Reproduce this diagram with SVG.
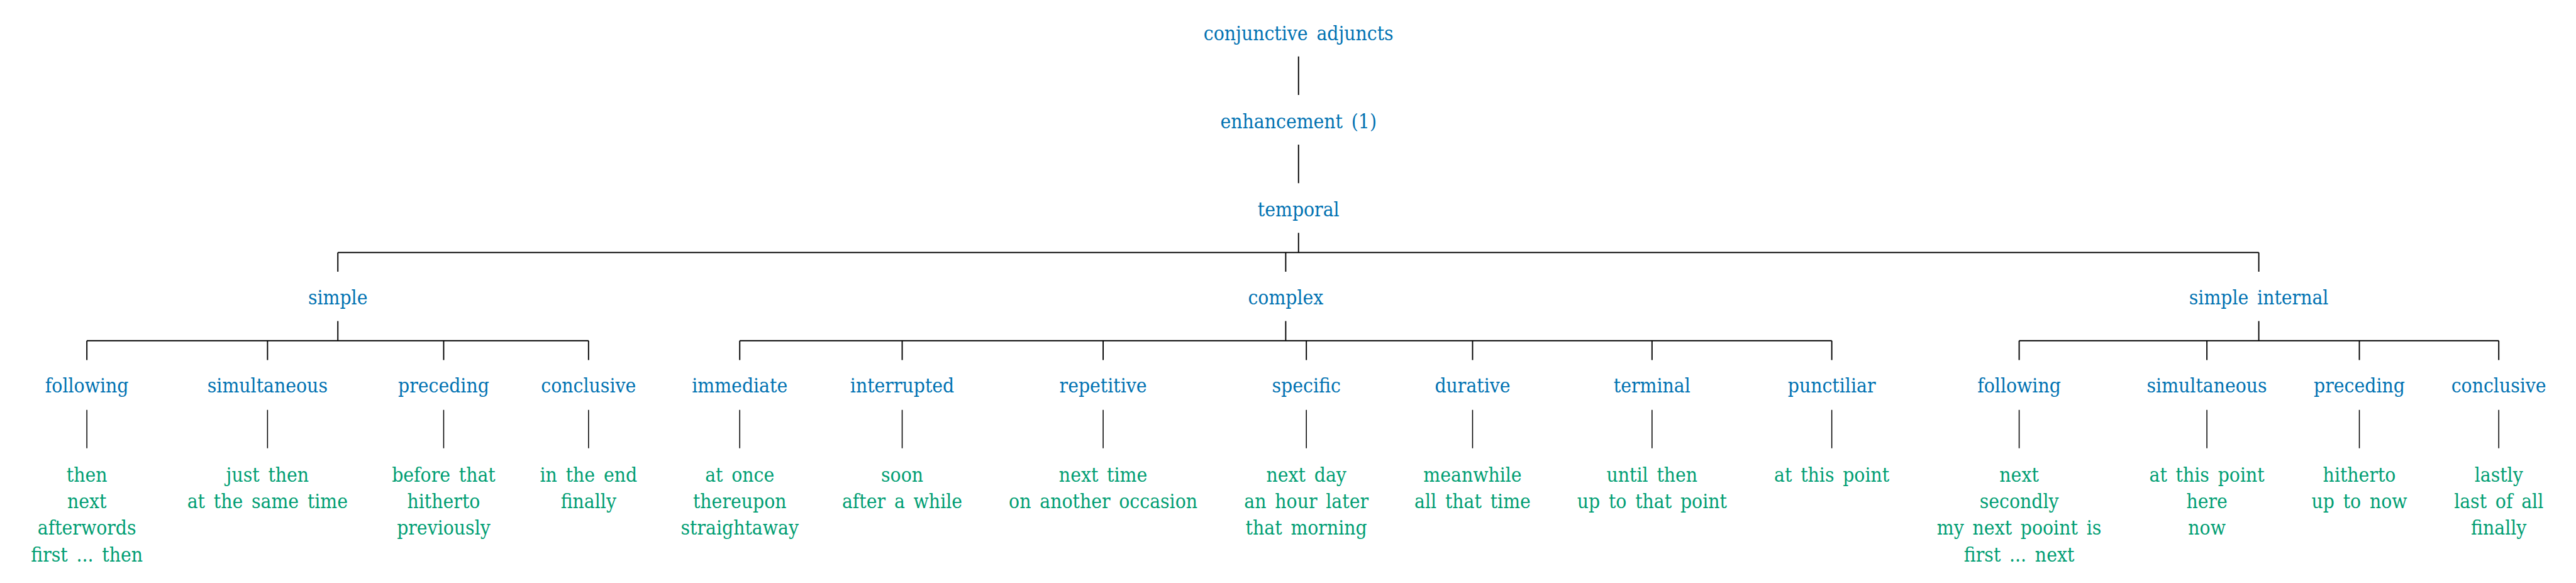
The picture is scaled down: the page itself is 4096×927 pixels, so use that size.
<svg xmlns="http://www.w3.org/2000/svg" width="4096" height="927" viewBox="0 0 4096 927">
<style>
text{font-family:"DejaVu Serif Condensed","DejaVu Serif","Liberation Serif",serif;font-stretch:condensed;font-size:33px;text-anchor:middle;word-spacing:5px}
.n{fill:#0072B2}
.l{fill:#009E73}
#connectors path{stroke:#000;stroke-width:2;fill:none}
#connectors path.t{stroke-width:1.6}
</style>
<rect width="4096" height="927" fill="#fff"/>
<g transform="scale(0.9559)">
<g id="connectors">
<path d="M2160,94V158M2160,240.7V304.7M2160,387.3V420"/>
<path d="M562,420H3757.3M562,420V452M2138.7,420V452M3757.3,420V452"/>
<path d="M562,534V566.7M144.5,566.7H979M144.5,566.7V599M445,566.7V599M738,566.7V599M979,566.7V599"/>
<path d="M2138.7,534V566.7M1230.5,566.7H3047M1230.5,566.7V599M1500.7,566.7V599M1835,566.7V599M2173,566.7V599M2449.5,566.7V599M2748,566.7V599M3047,566.7V599"/>
<path d="M3757.3,534V566.7M3358.7,566.7H4156.5M3358.7,566.7V599M3671,566.7V599M3924.6,566.7V599M4156.5,566.7V599"/>
<path class="t" d="M144.5,681.7V745.7M445,681.7V745.7M738,681.7V745.7M979,681.7V745.7M1230.5,681.7V745.7M1500.7,681.7V745.7M1835,681.7V745.7M2173,681.7V745.7M2449.5,681.7V745.7M2748,681.7V745.7M3047,681.7V745.7M3358.7,681.7V745.7M3671,681.7V745.7M3924.6,681.7V745.7M4156.5,681.7V745.7"/>
</g>
<g id="n-conjunctive-adjuncts"><text class="n" x="2160" y="66.7">conjunctive adjuncts</text></g>
<g id="n-enhancement"><text class="n" x="2160" y="213.3">enhancement (1)</text></g>
<g id="n-temporal"><text class="n" x="2160" y="360">temporal</text></g>
<g id="n-simple"><text class="n" x="562" y="506.7">simple</text></g>
<g id="n-complex"><text class="n" x="2138.7" y="506.7">complex</text></g>
<g id="n-simple-internal"><text class="n" x="3757.3" y="506.7">simple internal</text></g>
<g id="n-s-following"><text class="n" x="144.5" y="653.3">following</text></g>
<g id="n-s-simultaneous"><text class="n" x="445" y="653.3">simultaneous</text></g>
<g id="n-s-preceding"><text class="n" x="738" y="653.3">preceding</text></g>
<g id="n-s-conclusive"><text class="n" x="979" y="653.3">conclusive</text></g>
<g id="n-immediate"><text class="n" x="1230.5" y="653.3">immediate</text></g>
<g id="n-interrupted"><text class="n" x="1500.7" y="653.3">interrupted</text></g>
<g id="n-repetitive"><text class="n" x="1835" y="653.3">repetitive</text></g>
<g id="n-specific"><text class="n" x="2173" y="653.3">specific</text></g>
<g id="n-durative"><text class="n" x="2449.5" y="653.3">durative</text></g>
<g id="n-terminal"><text class="n" x="2748" y="653.3">terminal</text></g>
<g id="n-punctiliar"><text class="n" x="3047" y="653.3">punctiliar</text></g>
<g id="n-si-following"><text class="n" x="3358.7" y="653.3">following</text></g>
<g id="n-si-simultaneous"><text class="n" x="3671" y="653.3">simultaneous</text></g>
<g id="n-si-preceding"><text class="n" x="3924.6" y="653.3">preceding</text></g>
<g id="n-si-conclusive"><text class="n" x="4156.5" y="653.3">conclusive</text></g>
<g id="l-s-following"><text class="l" y="801"><tspan x="144.5">then</tspan><tspan x="144.5" dy="44.3">next</tspan><tspan x="144.5" dy="44.3">afterwords</tspan><tspan x="144.5" dy="44.3">first ... then</tspan></text></g>
<g id="l-s-simultaneous"><text class="l" y="801"><tspan x="445">just then</tspan><tspan x="445" dy="44.3">at the same time</tspan></text></g>
<g id="l-s-preceding"><text class="l" y="801"><tspan x="738">before that</tspan><tspan x="738" dy="44.3">hitherto</tspan><tspan x="738" dy="44.3">previously</tspan></text></g>
<g id="l-s-conclusive"><text class="l" y="801"><tspan x="979">in the end</tspan><tspan x="979" dy="44.3">finally</tspan></text></g>
<g id="l-immediate"><text class="l" y="801"><tspan x="1230.5">at once</tspan><tspan x="1230.5" dy="44.3">thereupon</tspan><tspan x="1230.5" dy="44.3">straightaway</tspan></text></g>
<g id="l-interrupted"><text class="l" y="801"><tspan x="1500.7">soon</tspan><tspan x="1500.7" dy="44.3">after a while</tspan></text></g>
<g id="l-repetitive"><text class="l" y="801"><tspan x="1835">next time</tspan><tspan x="1835" dy="44.3">on another occasion</tspan></text></g>
<g id="l-specific"><text class="l" y="801"><tspan x="2173">next day</tspan><tspan x="2173" dy="44.3">an hour later</tspan><tspan x="2173" dy="44.3">that morning</tspan></text></g>
<g id="l-durative"><text class="l" y="801"><tspan x="2449.5">meanwhile</tspan><tspan x="2449.5" dy="44.3">all that time</tspan></text></g>
<g id="l-terminal"><text class="l" y="801"><tspan x="2748">until then</tspan><tspan x="2748" dy="44.3">up to that point</tspan></text></g>
<g id="l-punctiliar"><text class="l" y="801"><tspan x="3047">at this point</tspan></text></g>
<g id="l-si-following"><text class="l" y="801"><tspan x="3358.7">next</tspan><tspan x="3358.7" dy="44.3">secondly</tspan><tspan x="3358.7" dy="44.3">my next pooint is</tspan><tspan x="3358.7" dy="44.3">first ... next</tspan></text></g>
<g id="l-si-simultaneous"><text class="l" y="801"><tspan x="3671">at this point</tspan><tspan x="3671" dy="44.3">here</tspan><tspan x="3671" dy="44.3">now</tspan></text></g>
<g id="l-si-preceding"><text class="l" y="801"><tspan x="3924.6">hitherto</tspan><tspan x="3924.6" dy="44.3">up to now</tspan></text></g>
<g id="l-si-conclusive"><text class="l" y="801"><tspan x="4156.5">lastly</tspan><tspan x="4156.5" dy="44.3">last of all</tspan><tspan x="4156.5" dy="44.3">finally</tspan></text></g>
</g>
</svg>
